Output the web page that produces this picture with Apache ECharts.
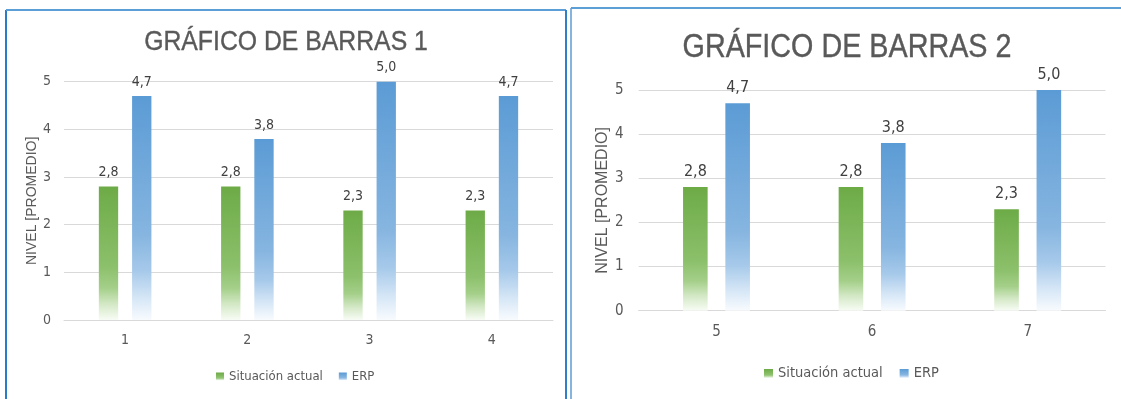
<!DOCTYPE html>
<html>
<head>
<meta charset="utf-8">
<script src="https://cdn.jsdelivr.net/npm/echarts@6/dist/echarts.min.js"></script>
<style>
  html, body { margin: 0; padding: 0; background: #ffffff; }
  #chart { width: 1121px; height: 399px; }
</style>
</head>
<body>
<div id="chart"></div>
<script>
// ---- data ----
const categories1 = ['1', '2', '3', '4'];
const actual1 = [2.8, 2.8, 2.3, 2.3];
const erp1 = [4.7, 3.8, 5.0, 4.7];

const categories2 = ['5', '6', '7'];
const actual2 = [2.8, 2.8, 2.3];
const erp2 = [4.7, 3.8, 5.0];

const yMin = 0;
const yMax = 5;
const yInterval = 1;

const titles = ['GRÁFICO DE BARRAS 1', 'GRÁFICO DE BARRAS 2'];
const seriesNames = ['Situación actual', 'ERP'];
const axisName = 'NIVEL [PROMEDIO]';

// ---- styling ----
const NARROW = "'Liberation Sans Narrow', 'DejaVu Sans Condensed', 'Roboto Condensed', sans-serif";
const SANS = "'Liberation Sans', Arial, sans-serif";
const TEXT = '#595959';
const LABEL = '#404040';
const GRID_LINE = '#d9d9d9';

function grad(stops) {
  return new echarts.graphic.LinearGradient(0, 0, 0, 1,
    stops.map(s => ({ offset: s[0], color: s[1] })));
}
const greenFill = () => grad([[0, '#6DAB47'], [0.6, '#8CC06B'], [0.76, '#A4CF89'], [0.88, '#D3E8C5'], [1, '#F8FCF5']]);
const blueFill = () => grad([[0, '#5B9BD5'], [0.62, '#86B5E0'], [0.78, '#A6C9EA'], [0.9, '#D5E6F6'], [1, '#F8FBFE']]);

const fmt = p => p.value.toFixed(1).replace('.', ',');

// two panels, side by side
const panels = [
  {
    cats: categories1, a: actual1, b: erp1, title: titles[0],
    grid: { left: 64, top: 81.7, width: 489, height: 238.3 },
    titleX: 286, titleY: 42, titleSize: 28, titleScale: 0.885,
    tickSize: 14, labelSize: 14, nameSize: 14, nameGap: 24,
    yMargin: 13, xMargin: 13,
    legend: { left: 216, top: 370, size: 13, icon: 8, gap: 16 }
  },
  {
    cats: categories2, a: actual2, b: erp2, title: titles[1],
    grid: { left: 638.7, top: 90, width: 466.8, height: 220.7 },
    titleX: 847, titleY: 48, titleSize: 34, titleScale: 0.845,
    tickSize: 15, labelSize: 16, nameSize: 16, nameGap: 28,
    yMargin: 15, xMargin: 14,
    legend: { left: 764, top: 366, size: 14.5, icon: 9, gap: 17 }
  }
];

const option = {
  animation: false,
  backgroundColor: '#ffffff',
  grid: [], xAxis: [], yAxis: [], series: [], legend: [],
  graphic: []
};

panels.forEach((p, i) => {
  option.grid.push(Object.assign({ containLabel: false }, p.grid));
  option.xAxis.push({
    type: 'category', gridIndex: i, data: p.cats,
    axisLine: { show: true, lineStyle: { color: GRID_LINE, width: 1 } },
    axisTick: { show: false },
    axisLabel: { color: TEXT, fontFamily: NARROW, fontSize: p.tickSize, margin: p.xMargin }
  });
  option.yAxis.push({
    type: 'value', gridIndex: i, min: yMin, max: yMax, interval: yInterval,
    name: axisName, nameLocation: 'middle', nameGap: p.nameGap,
    nameTextStyle: { color: TEXT, fontFamily: SANS, fontSize: p.nameSize },
    axisLine: { show: false }, axisTick: { show: false },
    axisLabel: { color: TEXT, fontFamily: NARROW, fontSize: p.tickSize, margin: p.yMargin },
    splitLine: { lineStyle: { color: GRID_LINE, width: 1 } }
  });
  const common = {
    type: 'bar', xAxisIndex: i, yAxisIndex: i,
    barGap: '72%', barCategoryGap: '57%',
    label: {
      show: true, position: 'top', distance: 7, formatter: fmt,
      color: LABEL, fontFamily: NARROW, fontSize: p.labelSize
    }
  };
  option.series.push(Object.assign({}, common, {
    name: seriesNames[0], data: p.a, itemStyle: { color: greenFill() }
  }));
  option.series.push(Object.assign({}, common, {
    name: seriesNames[1], data: p.b, itemStyle: { color: blueFill() }
  }));
  option.legend.push({
    data: seriesNames, left: p.legend.left, top: p.legend.top, padding: 0,
    icon: 'rect', itemWidth: p.legend.icon, itemHeight: p.legend.icon,
    itemGap: p.legend.gap, selectedMode: false,
    textStyle: { color: TEXT, fontFamily: NARROW, fontSize: p.legend.size }
  });
  // condensed chart title: regular sans squeezed horizontally, slightly heavier stroke
  option.graphic.push({
    type: 'text', x: p.titleX, y: p.titleY, scaleX: p.titleScale, silent: true,
    style: {
      text: p.title, fill: TEXT, font: `${p.titleSize}px ${SANS}`,
      stroke: TEXT, lineWidth: 0.4,
      textAlign: 'center', textVerticalAlign: 'middle'
    }
  });
});

// panel frames
const frame = (x1, y1, x2, y2, color) => ({
  type: 'line', silent: true,
  shape: { x1, y1, x2, y2 },
  style: { stroke: color, lineWidth: 2 }
});
option.graphic.push(
  frame(6, 10, 6, 399, '#2B7BC6'),
  frame(6, 10, 566, 10, '#5B9FD6'),
  frame(566, 10, 566, 399, '#2F80C9'),
  frame(571, 8, 571, 399, '#86B4DE'),
  frame(571, 8, 1121, 8, '#5B9FD6')
);

const chart = echarts.init(document.getElementById('chart'), null, { renderer: 'canvas' });
chart.setOption(option);
</script>
</body>
</html>
